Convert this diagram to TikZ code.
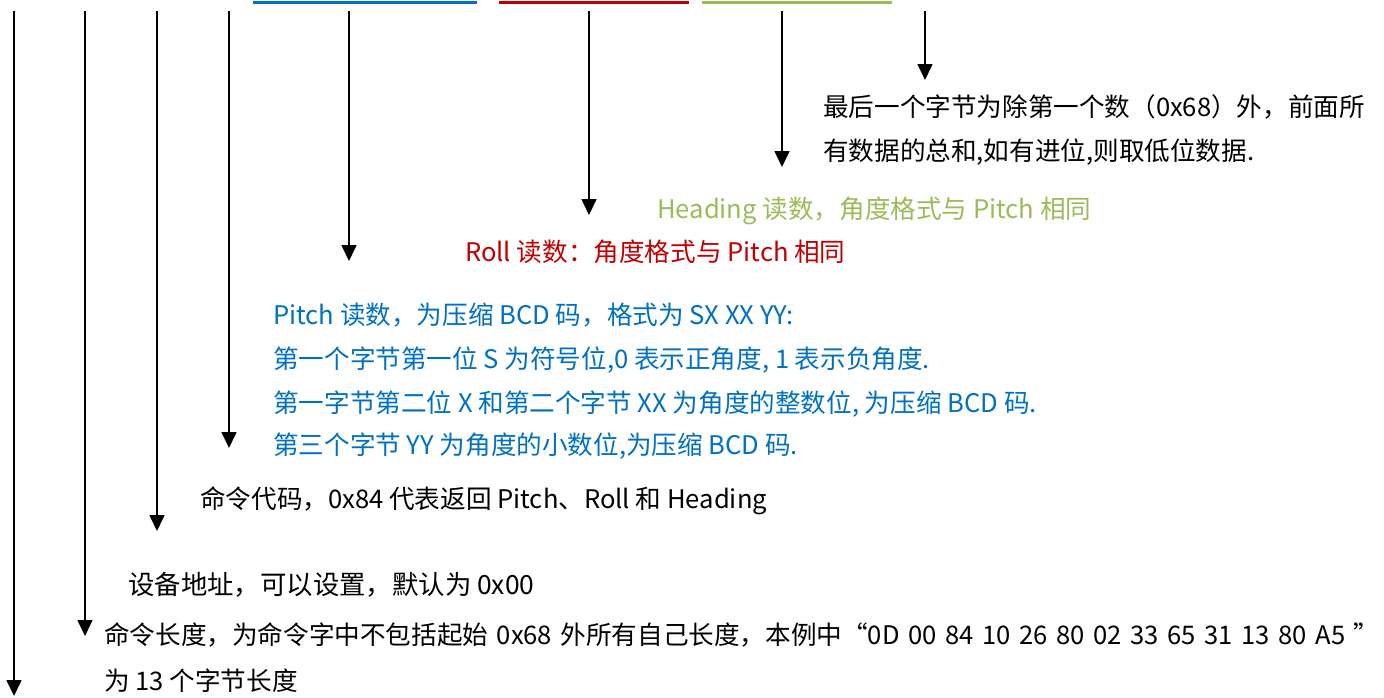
\documentclass[tikz,border=0pt]{standalone}
\usepackage{fontspec}
\setmainfont{Noto Sans CJK SC}
\usetikzlibrary{arrows.meta}
\definecolor{cblue}{HTML}{0070C0}
\definecolor{cred}{HTML}{C00000}
\definecolor{cgreen}{HTML}{9BBB59}
\begin{document}
\begin{tikzpicture}[x=1pt,y=-1pt,
  lbl/.style={anchor=west,inner sep=0pt,font=\fontsize{25.6}{30}\selectfont},
  ptr/.style={line width=1.6pt,-{Triangle[width=15pt,length=16pt]}},
  bar/.style={line width=3pt}]
\useasboundingbox (0,0) rectangle (1384,697);
% top bars
\draw[bar,cblue] (253,2.5) -- (477,2.5);
\draw[bar,cred] (499,2.5) -- (689,2.5);
\draw[bar,cgreen] (702,2.5) -- (892,2.5);
% texts
\node[lbl] (sum1) at (823,107) {最后一个字节为除第一个数（0x68）外，前面所};
\node[lbl] (sum2) at (823,152) {有数据的总和,如有进位,则取低位数据.};
\node[lbl,text=cgreen] (head) at (657,211) {Heading 读数，角度格式与 Pitch 相同};
\node[lbl,text=cred] (roll) at (465,252) {Roll 读数：角度格式与 Pitch 相同};
\node[lbl,text=cblue] (p1) at (273,315) {Pitch 读数，为压缩 BCD 码，格式为 SX XX YY:};
\node[lbl,text=cblue] (p2) at (273,360) {第一个字节第一位 S 为符号位,0 表示正角度, 1 表示负角度.};
\node[lbl,text=cblue] (p3) at (273,404) {第一字节第二位 X 和第二个字节 XX 为角度的整数位, 为压缩 BCD 码.};
\node[lbl,text=cblue] (p4) at (273,446) {第三个字节 YY 为角度的小数位,为压缩 BCD 码.};
\node[lbl] (cmd) at (200,501) {命令代码，0x84 代表返回 Pitch、Roll 和 Heading};
\node[lbl,font=\fontsize{26.4}{31}\selectfont] (addr) at (128,585) {设备地址，可以设置，默认为 0x00};
\node[lbl] (len1) at (104,635) {\spaceskip=1.5\fontdimen2\font plus 1pt\relax 命令长度，为命令字中不包括起始 0x68 外所有自己长度，本例中“0D 00 84 10 26 80 02 33 65 31 13 80 A5 ”};
\node[lbl] (len2) at (104,681) {为 13 个字节长度};
% arrow ends
\foreach \n/\x/\y in {a/14/696, b/85/636, c/157/531, d/229/448, e/349/261, f/589/215, g/782/167, h/925/80}{
  \coordinate (\n0) at (\x,11);
  \coordinate (\n1) at (\x,\y);
  \draw[ptr] (\n0) -- (\n1);
}
\end{tikzpicture}
\end{document}
